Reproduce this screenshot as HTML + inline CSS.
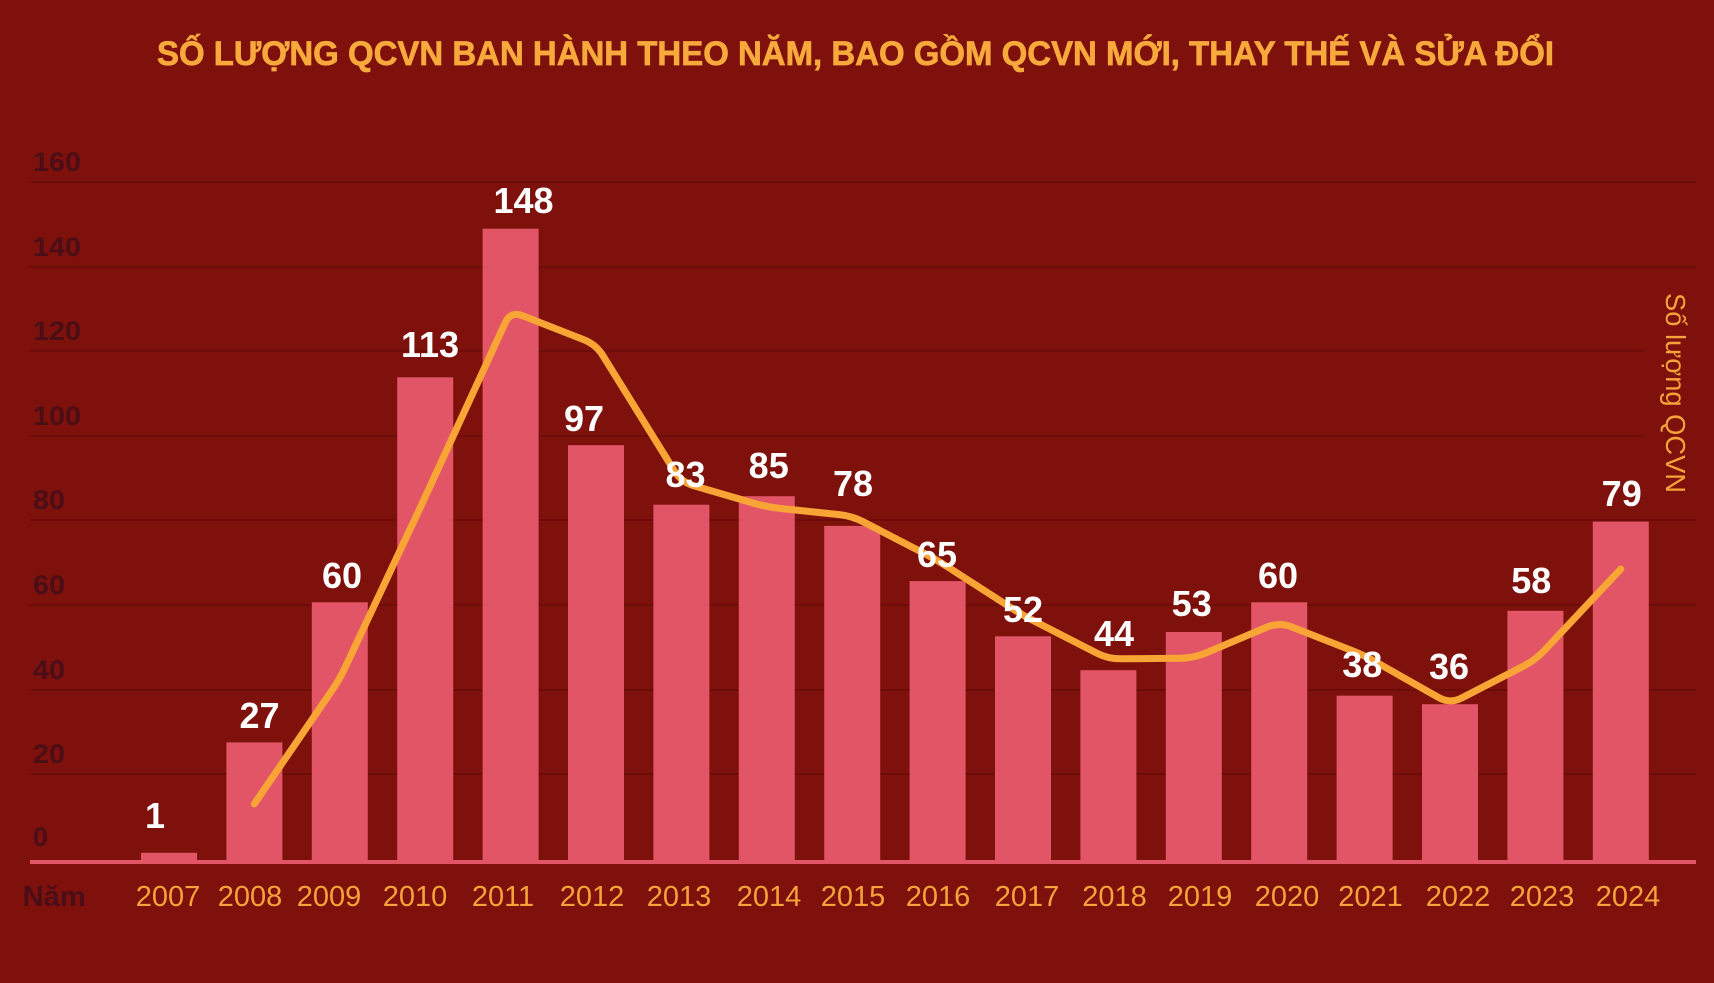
<!DOCTYPE html>
<html>
<head>
<meta charset="utf-8">
<style>
  html, body { margin:0; padding:0; background:#7e110c; }
  svg { display:block; }
  text { font-family: "Liberation Sans", "DejaVu Sans", sans-serif; }
</style>
</head>
<body>
<svg id="chart" width="1714" height="983" viewBox="0 0 1714 983" xmlns="http://www.w3.org/2000/svg">
  <rect x="0" y="0" width="1714" height="983" fill="#7e110c"/>

  <!-- Title -->
  <text x="157" y="65" font-size="34" font-weight="bold" fill="#f7a93c" stroke="#f7a93c" stroke-width="0.7" textLength="1397" lengthAdjust="spacingAndGlyphs">SỐ LƯỢNG QCVN BAN HÀNH THEO NĂM, BAO GỒM QCVN MỚI, THAY THẾ VÀ SỬA ĐỔI</text>

  <!-- Gridlines -->
  <g stroke="#690b0a" stroke-width="1.6">
    <line x1="30" y1="182" x2="1696" y2="182"/>
    <line x1="30" y1="267" x2="1696" y2="267"/>
    <line x1="30" y1="351" x2="1696" y2="351"/>
    <line x1="30" y1="436" x2="1696" y2="436"/>
    <line x1="30" y1="520" x2="1696" y2="520"/>
    <line x1="30" y1="605" x2="1696" y2="605"/>
    <line x1="30" y1="690" x2="1696" y2="690"/>
    <line x1="30" y1="774" x2="1696" y2="774"/>
  </g>
  <!-- right label background box -->
  <rect x="1644" y="285" width="70" height="220" fill="#7e110c"/>

  <!-- Y tick labels -->
  <g font-size="27" font-weight="bold" fill="#4b0e16">
    <text x="33" y="171" textLength="48" lengthAdjust="spacingAndGlyphs">160</text>
    <text x="33" y="256" textLength="48" lengthAdjust="spacingAndGlyphs">140</text>
    <text x="33" y="340" textLength="48" lengthAdjust="spacingAndGlyphs">120</text>
    <text x="33" y="425" textLength="48" lengthAdjust="spacingAndGlyphs">100</text>
    <text x="33" y="509" textLength="32" lengthAdjust="spacingAndGlyphs">80</text>
    <text x="33" y="594" textLength="32" lengthAdjust="spacingAndGlyphs">60</text>
    <text x="33" y="679" textLength="32" lengthAdjust="spacingAndGlyphs">40</text>
    <text x="33" y="763" textLength="32" lengthAdjust="spacingAndGlyphs">20</text>
    <text x="33" y="846" textLength="15" lengthAdjust="spacingAndGlyphs">0</text>
  </g>

  <!-- Bars -->
  <g fill="#e25566">
    <rect x="141" y="852.8" width="56" height="9.2"/>
    <rect x="226.4" y="742.4" width="56" height="119.6"/>
    <rect x="311.8" y="602.3" width="56" height="259.7"/>
    <rect x="397.2" y="377.3" width="56" height="484.7"/>
    <rect x="482.6" y="228.7" width="56" height="633.3"/>
    <rect x="568" y="445.2" width="56" height="416.8"/>
    <rect x="653.4" y="504.7" width="56" height="357.3"/>
    <rect x="738.8" y="496.2" width="56" height="365.8"/>
    <rect x="824.2" y="525.9" width="56" height="336.1"/>
    <rect x="909.6" y="581.1" width="56" height="280.9"/>
    <rect x="995" y="636.3" width="56" height="225.7"/>
    <rect x="1080.4" y="670.2" width="56" height="191.8"/>
    <rect x="1165.8" y="632" width="56" height="230"/>
    <rect x="1251.2" y="602.3" width="56" height="259.7"/>
    <rect x="1336.6" y="695.7" width="56" height="166.3"/>
    <rect x="1422" y="704.2" width="56" height="157.8"/>
    <rect x="1507.4" y="610.8" width="56" height="251.2"/>
    <rect x="1592.8" y="521.6" width="56" height="340.4"/>
  </g>
  <!-- Axis baseline -->
  <rect x="30" y="860" width="1666" height="4" fill="#e25566"/>

  <!-- Moving average line -->
  <polyline id="maline" fill="none" stroke="#f9a535" stroke-width="7" stroke-linejoin="round" stroke-linecap="round"
    points="254.4,803.8 339.8,678.9 425.2,496.9 510.6,311 596,344.6 681.4,482.1 766.8,507 852.2,516 937.6,560.4 1023,615.4 1108.4,659 1193.8,658 1279.2,622 1364.6,655.6 1450,704 1535.4,660 1620.8,569"/>
  <path id="maline2" fill="none" stroke="#f9a535" stroke-width="7" stroke-linejoin="round" stroke-linecap="round" d=""/>

  <!-- Value labels -->
  <g font-size="36" font-weight="bold" fill="#ffffff" text-anchor="middle">
    <text x="155" y="828">1</text>
    <text x="259.5" y="728">27</text>
    <text x="342" y="588">60</text>
    <text x="430" y="357">113</text>
    <text x="523.5" y="213">148</text>
    <text x="584" y="431">97</text>
    <text x="685.5" y="487">83</text>
    <text x="768.7" y="478">85</text>
    <text x="853" y="496">78</text>
    <text x="937" y="567">65</text>
    <text x="1023" y="622">52</text>
    <text x="1114" y="646">44</text>
    <text x="1191.7" y="616">53</text>
    <text x="1278" y="588">60</text>
    <text x="1362.3" y="677">38</text>
    <text x="1449" y="679">36</text>
    <text x="1531.3" y="593">58</text>
    <text x="1621.7" y="506">79</text>
  </g>

  <!-- X axis labels -->
  <text x="22.7" y="906" font-size="29" font-weight="bold" fill="#4b0e16" textLength="63" lengthAdjust="spacingAndGlyphs">Năm</text>
  <g font-size="29" fill="#f5a23a" text-anchor="middle">
    <text x="168" y="906">2007</text>
    <text x="250" y="906">2008</text>
    <text x="329" y="906">2009</text>
    <text x="415" y="906">2010</text>
    <text x="503" y="906">2011</text>
    <text x="592" y="906">2012</text>
    <text x="679" y="906">2013</text>
    <text x="769" y="906">2014</text>
    <text x="853" y="906">2015</text>
    <text x="938" y="906">2016</text>
    <text x="1027" y="906">2017</text>
    <text x="1114.5" y="906">2018</text>
    <text x="1200" y="906">2019</text>
    <text x="1287" y="906">2020</text>
    <text x="1370.5" y="906">2021</text>
    <text x="1458" y="906">2022</text>
    <text x="1542" y="906">2023</text>
    <text x="1628" y="906">2024</text>
  </g>

  <!-- Right axis title -->
  <text transform="translate(1666,393) rotate(90)" x="0" y="0" font-size="28" fill="#f5a23a" text-anchor="middle" textLength="200" lengthAdjust="spacingAndGlyphs">Số lượng QCVN</text>
</svg>
<script>
(function(){
  try {
    var pl = document.getElementById('maline');
    var pts = pl.getAttribute('points').trim().split(/\s+/).map(function(s){var a=s.split(',');return [parseFloat(a[0]),parseFloat(a[1])];});
    var r = 13;
    var d = 'M' + pts[0][0] + ',' + pts[0][1];
    for (var i = 1; i < pts.length - 1; i++) {
      var p0 = pts[i-1], p1 = pts[i], p2 = pts[i+1];
      var dx1 = p1[0]-p0[0], dy1 = p1[1]-p0[1], l1 = Math.hypot(dx1,dy1);
      var dx2 = p2[0]-p1[0], dy2 = p2[1]-p1[1], l2 = Math.hypot(dx2,dy2);
      var rr = Math.min(r, l1/2, l2/2);
      var a = [p1[0]-dx1/l1*rr, p1[1]-dy1/l1*rr];
      var b = [p1[0]+dx2/l2*rr, p1[1]+dy2/l2*rr];
      d += ' L' + a[0].toFixed(1) + ',' + a[1].toFixed(1) + ' Q' + p1[0] + ',' + p1[1] + ' ' + b[0].toFixed(1) + ',' + b[1].toFixed(1);
    }
    var last = pts[pts.length-1];
    d += ' L' + last[0] + ',' + last[1];
    document.getElementById('maline2').setAttribute('d', d);
    pl.setAttribute('visibility','hidden');
  } catch(e) {}
})();
</script>
</body>
</html>
